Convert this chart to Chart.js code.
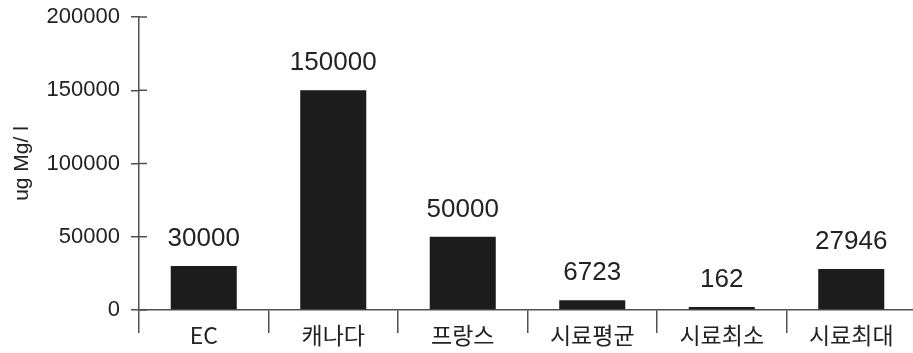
<!DOCTYPE html>
<html>
<head>
<meta charset="utf-8">
<script src="https://cdn.jsdelivr.net/npm/chart.js@4.4.1/dist/chart.umd.min.js"></script>
<style>
  html, body { margin: 0; padding: 0; background: #ffffff; overflow: hidden; }
  #wrap { width: 913px; height: 353px; overflow: hidden; }
  canvas { display: block; }
</style>
</head>
<body>
<div id="wrap"><canvas id="c" width="916" height="353"></canvas></div>
<script>
// Categories and measured concentrations
const categories = ['EC', '캐나다', '프랑스', '시료평균', '시료최소', '시료최대'];
const concentrations = [30000, 150000, 50000, 6723, 162, 27946];
const yTickValues = [0, 50000, 100000, 150000, 200000];
const yAxisTitle = 'ug Mg/ l';

const AXIS_COLOR = '#505050';
const TEXT_COLOR = '#222222';

// Value labels above each bar plus small tick stubs on the inner side of the y axis
const decorations = {
  id: 'decorations',
  afterDatasetsDraw(chart) {
    const ctx = chart.ctx;
    const y = chart.scales.y;
    ctx.save();
    // inner half of the y ticks
    ctx.strokeStyle = AXIS_COLOR;
    ctx.lineWidth = 1.5;
    y.ticks.forEach(t => {
      const py = y.getPixelForValue(t.value);
      ctx.beginPath();
      ctx.moveTo(y.right, py);
      ctx.lineTo(y.right + 8, py);
      ctx.stroke();
    });
    // bar value labels
    ctx.fillStyle = TEXT_COLOR;
    ctx.font = '26px "Liberation Sans", Arial, sans-serif';
    ctx.textAlign = 'center';
    ctx.textBaseline = 'bottom';
    const meta = chart.getDatasetMeta(0);
    meta.data.forEach((bar, i) => {
      const v = chart.data.datasets[0].data[i];
      ctx.fillText(String(v), bar.x, bar.y - 14);
    });
    ctx.restore();
  }
};

new Chart(document.getElementById('c'), {
  type: 'bar',
  data: {
    labels: categories,
    datasets: [{
      data: concentrations,
      backgroundColor: '#1c1c1c',
      borderWidth: 0,
      barPercentage: 0.51,
      categoryPercentage: 1.0,
      minBarLength: 3
    }]
  },
  options: {
    responsive: false,
    animation: false,
    layout: { padding: { top: 17, right: 0, bottom: 0, left: 0 } },
    plugins: {
      legend: { display: false },
      tooltip: { enabled: false }
    },
    scales: {
      x: {
        offset: true,
        grid: {
          offset: true,
          drawOnChartArea: false,
          drawTicks: true,
          tickLength: 23,
          color: AXIS_COLOR,
          lineWidth: 1.5
        },
        border: { display: true, color: AXIS_COLOR, width: 1.5 },
        ticks: {
          padding: -12,
          color: TEXT_COLOR,
          font: { family: '"Noto Sans CJK KR", sans-serif', size: 23 }
        },
        afterFit(scale) { scale.height = 43; }
      },
      y: {
        min: 0,
        max: 200000,
        afterBuildTicks(scale) {
          scale.ticks = yTickValues.map(v => ({ value: v }));
        },
        grid: {
          drawOnChartArea: false,
          drawTicks: true,
          tickLength: 8,
          color: AXIS_COLOR,
          lineWidth: 1.5
        },
        border: { display: true, color: AXIS_COLOR, width: 1.5 },
        ticks: {
          padding: 11,
          color: TEXT_COLOR,
          font: { family: '"Liberation Sans", Arial, sans-serif', size: 22 },
          callback: v => String(v)
        },
        title: {
          display: true,
          text: yAxisTitle,
          color: TEXT_COLOR,
          padding: { top: 10, bottom: 0 },
          font: { family: '"Liberation Sans", Arial, sans-serif', size: 21 }
        },
        afterFit(scale) {
          scale.width = 139;
          scale.paddingTop = 0;
          scale.paddingBottom = 0;
        }
      }
    }
  },
  plugins: [decorations]
});
</script>
</body>
</html>
